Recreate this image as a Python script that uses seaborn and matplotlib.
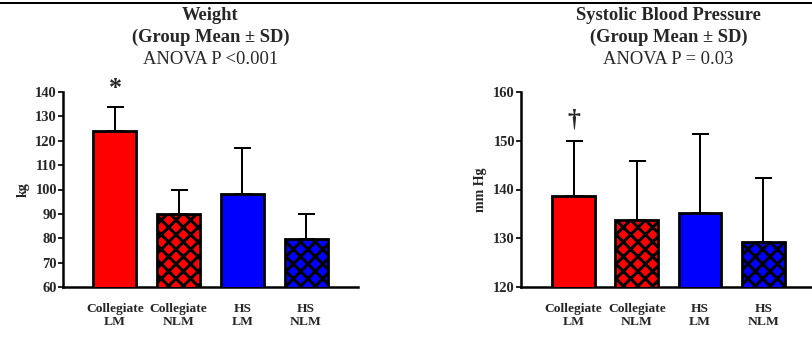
import pandas as pd
import matplotlib.pyplot as plt
import seaborn as sns
from matplotlib.lines import Line2D

# Group labels and values
groups = ["Collegiate\nLM", "Collegiate\nNLM", "HS\nLM", "HS\nNLM"]
colors = ["#ff0000", "#ff0000", "#0000ff", "#0000ff"]
hatches = ["", "xx", "", "xx"]

weight_mean = [124.0, 90.0, 98.0, 79.5]
weight_sd = [10.0, 10.0, 19.0, 10.3]

sbp_mean = [138.7, 133.8, 135.2, 129.2]
sbp_sd = [11.3, 12.0, 16.1, 13.1]

W, H = 812, 337
DPI = 88


def px(v):
    # sizes below are given in output pixels
    return v * 72 / DPI


sns.set_style("white")
plt.rcParams["font.family"] = ["Liberation Serif", "DejaVu Serif"]
plt.rcParams["hatch.linewidth"] = px(3.0)
plt.rcParams["hatch.color"] = "black"

fig = plt.figure(figsize=(W / DPI, H / DPI), dpi=DPI)


def draw_panel(rect, means, sds, ylim, yticks, ylabel, xlim, titles, mark, mark_y, mark_size):
    ax = fig.add_axes(rect)
    df = pd.DataFrame({"group": groups, "value": means})
    sns.barplot(data=df, x="group", y="value", hue="group", palette=colors, saturation=1,
                width=0.675, errorbar=None, legend=False, ax=ax, zorder=3)
    for p, h in zip(ax.patches, hatches):
        p.set_edgecolor("black")
        p.set_linewidth(px(2.8))
        p.set_hatch(h)
    ax.errorbar(range(len(groups)), means, yerr=[[0] * len(sds), sds], fmt="none",
                ecolor="black", elinewidth=px(2), capsize=px(8.5), capthick=px(2), zorder=2)
    ax.set_ylim(*ylim)
    ax.set_yticks(yticks)
    ax.set_xlim(*xlim)
    ax.set_xticks(range(len(groups)))
    ax.set_xticklabels(groups, fontsize=px(13.5), fontweight="bold", linespacing=1.1)
    ax.set_xticks([1.5], minor=True)
    ax.tick_params(axis="x", which="major", length=0, pad=px(16))
    ax.tick_params(axis="x", which="minor", length=px(6), width=px(2.5), direction="out")
    ax.tick_params(axis="y", length=px(5), width=px(2), direction="out", pad=px(1),
                   labelsize=px(14.5), left=True)
    for lab in ax.get_yticklabels():
        lab.set_fontweight("bold")
    ax.set_xlabel("")
    ax.set_ylabel(ylabel, fontsize=px(14), fontweight="bold", labelpad=px(6))
    for s in ["top", "right"]:
        ax.spines[s].set_visible(False)
    for s in ["left", "bottom"]:
        ax.spines[s].set_linewidth(px(2.5))
        ax.spines[s].set_color("black")
    ax.text(0, mark_y, mark, ha="center", va="center", fontsize=px(mark_size), fontweight="bold")
    cx = rect[0] + rect[2] * (1.5 - xlim[0]) / (xlim[1] - xlim[0])
    fig.text(cx, 1 - 16 / H, titles[0], ha="center", va="center", fontsize=px(18.5), fontweight="bold")
    fig.text(cx, 1 - 37 / H, titles[1], ha="center", va="center", fontsize=px(18.5), fontweight="bold")
    fig.text(cx, 1 - 59 / H, titles[2], ha="center", va="center", fontsize=px(18.5))
    return ax


bottom = 1 - 287 / H
height = (287 - 92) / H

draw_panel([63 / W, bottom, (358 - 63) / W, height], weight_mean, weight_sd,
           (60, 140), range(60, 141, 10), "kg", (-0.816, 3.816),
           ["Weight", "(Group Mean ± SD)", "ANOVA P <0.001"], "*", 141.5, 26)

draw_panel([521 / W, bottom, (812 - 521) / W, height], sbp_mean, sbp_sd,
           (120, 160), range(120, 161, 10), "mm Hg", (-0.83, 3.77),
           ["Systolic Blood Pressure", "(Group Mean ± SD)", "ANOVA P = 0.03"], "†", 154.3, 26)

# thin frame line across the top of the figure
fig.add_artist(Line2D([0, 1], [1 - 3 / H, 1 - 3 / H], transform=fig.transFigure,
                      color="black", linewidth=px(2)))

fig.savefig("out.png", dpi=DPI)
